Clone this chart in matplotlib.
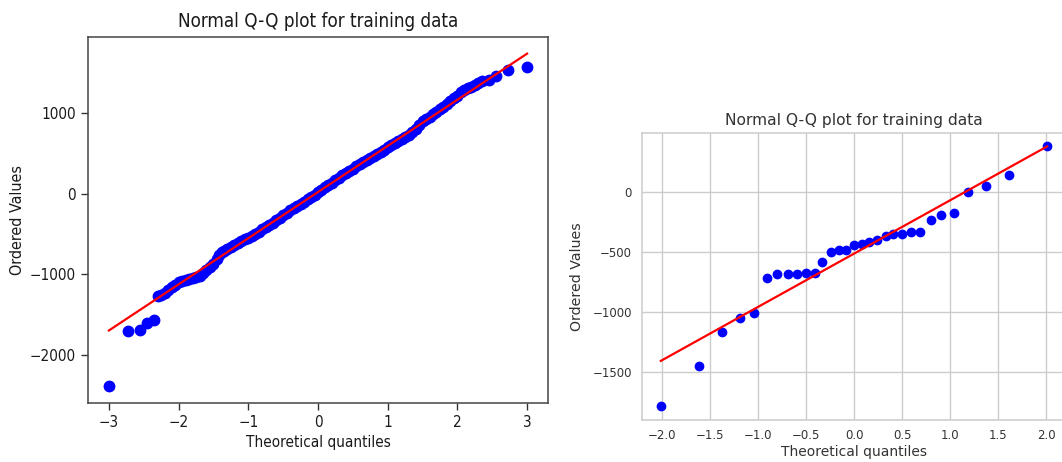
import numpy as np
import matplotlib
matplotlib.use("Agg")
import matplotlib.pyplot as plt

# left panel: large training set (ordered values vs theoretical quantiles)
left_quantiles = [-3.00, -2.72, -2.56, -2.45, -2.36,
                  -2.29, -2.25, -2.20, -2.15, -2.10, -2.05, -2.00, -1.95, -1.90, -1.85,
                  -1.80, -1.75, -1.70, -1.65, -1.60, -1.55, -1.50, -1.45, -1.42, -1.38,
                  -1.35, -1.30, -1.25, -1.20, -1.15, -1.10, -1.05, -1.00, -0.95, -0.90,
                  -0.85, -0.80, -0.75, -0.70, -0.65, -0.60, -0.55, -0.50, -0.45, -0.40,
                  -0.35, -0.30, -0.25, -0.20, -0.15, -0.10, -0.05, 0.00, 0.05, 0.10,
                  0.15, 0.20, 0.25, 0.30, 0.35, 0.40, 0.45, 0.50, 0.55, 0.60,
                  0.65, 0.70, 0.75, 0.80, 0.85, 0.90, 0.95, 1.00, 1.05, 1.10,
                  1.15, 1.20, 1.25, 1.30, 1.35, 1.40, 1.45, 1.50, 1.55, 1.60,
                  1.65, 1.70, 1.75, 1.80, 1.85, 1.90, 1.95, 2.00, 2.05, 2.10,
                  2.15, 2.20, 2.25, 2.30, 2.36,
                  2.45, 2.56, 2.72, 3.00]
left_values = [-2390, -1708, -1690, -1600, -1565,
               -1262, -1250, -1225, -1190, -1160, -1125, -1100, -1085, -1065, -1055,
               -1045, -1035, -1015, -985, -950, -905, -865, -810, -760, -725,
               -705, -680, -655, -630, -605, -580, -562, -545, -525, -500,
               -470, -440, -412, -385, -358, -330, -298, -265, -235, -205,
               -178, -150, -122, -95, -68, -40, -10, 20, 50, 80,
               110, 140, 170, 200, 230, 260, 288, 315, 342, 370,
               395, 420, 445, 470, 495, 520, 550, 580, 605, 630,
               655, 680, 705, 735, 765, 800, 850, 900, 930, 960,
               990, 1020, 1050, 1080, 1120, 1160, 1195, 1220, 1260, 1290,
               1310, 1330, 1355, 1375, 1400,
               1420, 1463, 1537, 1580]
left_slope = 573
left_intercept = 23

# right panel: small sample
right_quantiles = [-2.01, -1.61, -1.37, -1.19, -1.04, -0.91, -0.80, -0.69, -0.59, -0.50,
                   -0.41, -0.33, -0.24, -0.16, -0.08, 0.00, 0.08, 0.16, 0.24, 0.33,
                   0.41, 0.50, 0.59, 0.69, 0.80, 0.91, 1.04, 1.19, 1.37, 1.61, 2.01]
right_values = [-1788, -1447, -1162, -1053, -1008, -715, -684, -684, -684, -673,
                -673, -584, -497, -484, -484, -441, -430, -416, -397, -366,
                -344, -344, -330, -330, -232, -187, -176, 0, 53, 142, 385]
right_slope = 445.6
right_intercept = -511.5

title = "Normal Q-Q plot for training data"

fig = plt.figure(figsize=(10.62, 4.62), dpi=100)
W, H = 1062, 462

# ---- left panel (classic matplotlib look)
ax1 = fig.add_axes([88 / W, 1 - 403 / H, 460 / W, 366 / H])
xq = np.array(left_quantiles)
ax1.plot(xq, left_values, "o", color="#0000ff", markersize=7.5)
ends = np.array([xq.min(), xq.max()])
ax1.plot(ends, left_slope * ends + left_intercept, "-", color="#ff0000", lw=1.6)
txt = dict(fontstretch="condensed", color="#1a1a1a")
ax1.set_title(title, fontsize=13.5, pad=7, **txt)
ax1.set_xlabel("Theoretical quantiles", fontsize=11, labelpad=4, **txt)
ax1.set_ylabel("Ordered Values", fontsize=11.5, labelpad=4, **txt)
ax1.tick_params(labelsize=11, length=5, width=1, color="#333333", labelcolor="#1a1a1a")
for lab in ax1.get_xticklabels() + ax1.get_yticklabels():
    lab.set_fontstretch("condensed")
for s in ax1.spines.values():
    s.set_color("#444444")
    s.set_linewidth(1.1)

# ---- right panel (seaborn whitegrid look)
ax2 = fig.add_axes([641.5 / W, 1 - 419.5 / H, 425 / W, 286.2 / H])
xr = np.array(right_quantiles)
ax2.set_axisbelow(True)
ax2.grid(True, color="#cccccc", lw=1)
ax2.plot(xr, right_values, "o", color="#0000ff", markersize=6)
ends = np.array([xr.min(), xr.max()])
ax2.plot(ends, right_slope * ends + right_intercept, "-", color="#ff0000", lw=1.6)
ax2.set_title(title, fontsize=11.2, color="#333333", pad=6)
ax2.set_xlabel("Theoretical quantiles", fontsize=10, color="#333333", labelpad=2)
ax2.set_ylabel("Ordered Values", fontsize=10.2, color="#333333", labelpad=6)
ax2.tick_params(labelsize=8.5, length=0, pad=7, labelcolor="#333333")
for s in ax2.spines.values():
    s.set_color("#cccccc")
    s.set_linewidth(1.1)

fig.savefig("out.png", dpi=100)
